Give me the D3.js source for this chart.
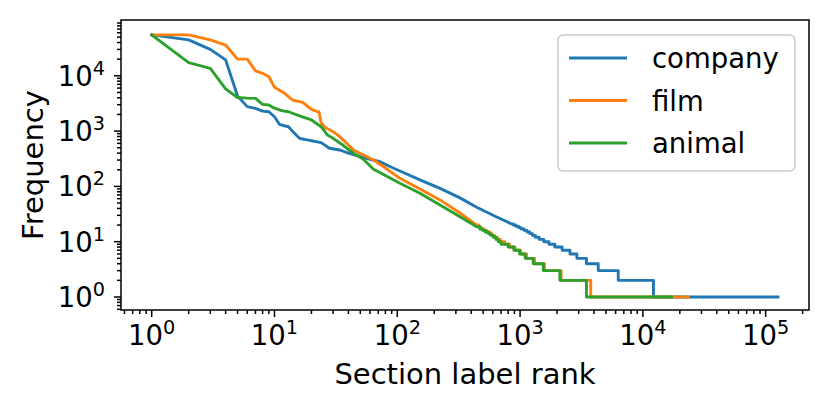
<!DOCTYPE html>
<html>
<head>
<meta charset="utf-8">
<script src="https://cdn.jsdelivr.net/npm/d3@7"></script>
<style>
  body { margin: 0; background: #fff; }
  svg { display: block; font-family: "DejaVu Sans", sans-serif; }
</style>
</head>
<body>
<svg id="chart" width="830" height="415"></svg>
<script>
// ---- data ----
// frequencies for ranks 1..n, then [rank, freq] samples, then [rank, new freq] stair drops
const seriesNames = ["company", "film", "animal"];
const seriesColors = ["#1f77b4", "#ff7f0e", "#2ca02c"];

const companyHead = [55000, 44600, 30000, 19400, 4300, 2770, 2580, 2300, 2240, 1820,
  1320, 1250, 1200, 1000, 850, 740, 720, 700, 685, 670];
const companyMid = [[24, 620], [28, 490], [34, 455], [40, 398], [50, 345], [60, 310],
  [72, 280], [87, 229], [105, 190], [153, 131], [223, 92], [324, 62], [443, 42],
  [645, 28], [850, 21]];
const companySteps = [[880, 20], [920, 19], [970, 18], [1020, 17], [1080, 16], [1140, 15],
  [1200, 14], [1260, 13], [1330, 12], [1430, 11], [1560, 10], [1720, 9], [1920, 8],
  [2200, 7], [2550, 6], [2900, 5], [3470, 4], [4330, 3], [6300, 2], [12200, 1]];
const companyEnd = 126000;

const filmHead = [55000, 55000, 44600, 36000, 20000, 20000, 12300, 11100, 9600, 6200,
  5500, 4900, 4200, 3650, 3500, 3420, 3300, 2970, 2700, 2480, 2380, 2280, 2240, 1400];
const filmMid = [[26, 1150], [28, 1060], [30, 980], [34, 795], [44, 455], [53, 370],
  [64, 300], [77, 229], [105, 140], [153, 90], [223, 57], [324, 33], [443, 20]];
const filmSteps = [[460, 19], [470, 18], [485, 17], [510, 16], [535, 15], [565, 14],
  [590, 13], [620, 12], [655, 11], [690, 10], [750, 9], [820, 8], [910, 7], [1010, 6],
  [1130, 5], [1310, 4], [1580, 3], [2160, 2], [3760, 1]];
const filmEnd = 23400;

const animalHead = [55000, 17300, 13600, 5800, 4050, 3950, 3900, 3040, 2970, 2600,
  2410, 2300, 2240];
const animalMid = [[16, 1880], [20, 1590], [24, 1200], [27, 850], [30, 740], [36, 560],
  [44, 398], [53, 310], [64, 205], [72, 178], [105, 114], [153, 75], [223, 46],
  [324, 28.3], [443, 18.6]];
const animalSteps = [[470, 17], [495, 16], [520, 15], [550, 14], [575, 13], [605, 12],
  [635, 11], [665, 10], [700, 9], [800, 8], [890, 7], [990, 6], [1100, 5], [1280, 4],
  [1545, 3], [2110, 2], [3470, 1]];
const animalEnd = 17100;

const xTickExps = [0, 1, 2, 3, 4, 5];
const yTickExps = [0, 1, 2, 3, 4];

function buildPoints(head, mid, steps, end) {
  const pts = head.map((f, i) => [i + 1, f]);
  mid.forEach(p => pts.push(p));
  let prev = pts[pts.length - 1][1];
  steps.forEach(([r, f]) => {
    pts.push([r, prev]);
    pts.push([r, f]);
    prev = f;
  });
  pts.push([end, prev]);
  return pts;
}

const allSeries = [
  buildPoints(companyHead, companyMid, companySteps, companyEnd),
  buildPoints(filmHead, filmMid, filmSteps, filmEnd),
  buildPoints(animalHead, animalMid, animalSteps, animalEnd)
];

// ---- layout ----
const plot = { left: 121, right: 809, top: 20, bottom: 310 };
const fontSize = 27.5;
const titleSize = 29;

const svg = d3.select("#chart");
svg.append("rect").attr("width", 830).attr("height", 415).attr("fill", "#fff");

const x = d3.scaleLog()
  .domain([Math.pow(10, -0.25), Math.pow(10, 5.353)])
  .range([plot.left, plot.right]);

const y = d3.scaleLog()
  .domain([Math.pow(10, -0.235), Math.pow(10, 5.009)])
  .range([plot.bottom, plot.top]);

// clip for lines
svg.append("clipPath").attr("id", "clip")
  .append("rect")
  .attr("x", plot.left).attr("y", plot.top)
  .attr("width", plot.right - plot.left).attr("height", plot.bottom - plot.top);

const line = d3.line()
  .x(d => x(d[0]))
  .y(d => y(d[1]));

const lines = svg.append("g").attr("clip-path", "url(#clip)");
allSeries.forEach((pts, i) => {
  lines.append("path")
    .datum(pts)
    .attr("d", line)
    .attr("fill", "none")
    .attr("stroke", seriesColors[i])
    .attr("stroke-width", 2.9)
    .attr("stroke-linejoin", "round")
    .attr("stroke-linecap", "square");
});

// ---- axes ----
function minorTicks(scale) {
  const [d0, d1] = scale.domain();
  const out = [];
  for (let e = Math.floor(Math.log10(d0)); e <= Math.ceil(Math.log10(d1)); e++) {
    for (let m = 2; m <= 9; m++) {
      const v = m * Math.pow(10, e);
      if (v >= d0 && v <= d1) out.push(v);
    }
  }
  return out;
}

const axes = svg.append("g").attr("stroke", "#000").attr("stroke-width", 1.5);

// x ticks
xTickExps.forEach(e => {
  const px = x(Math.pow(10, e));
  axes.append("line").attr("x1", px).attr("x2", px)
    .attr("y1", plot.bottom).attr("y2", plot.bottom + 7);
});
minorTicks(x).forEach(v => {
  const px = x(v);
  axes.append("line").attr("x1", px).attr("x2", px)
    .attr("y1", plot.bottom).attr("y2", plot.bottom + 4);
});

// y ticks
yTickExps.forEach(e => {
  const py = y(Math.pow(10, e));
  axes.append("line").attr("x1", plot.left - 7).attr("x2", plot.left)
    .attr("y1", py).attr("y2", py);
});
minorTicks(y).forEach(v => {
  const py = y(v);
  axes.append("line").attr("x1", plot.left - 4).attr("x2", plot.left)
    .attr("y1", py).attr("y2", py);
});

// frame
svg.append("rect")
  .attr("x", plot.left).attr("y", plot.top)
  .attr("width", plot.right - plot.left).attr("height", plot.bottom - plot.top)
  .attr("fill", "none").attr("stroke", "#000").attr("stroke-width", 1.5);

// tick labels
const labels = svg.append("g").attr("font-size", fontSize).attr("fill", "#000");

xTickExps.forEach(e => {
  const t = labels.append("text")
    .attr("x", x(Math.pow(10, e)))
    .attr("y", plot.bottom + 35)
    .attr("text-anchor", "middle");
  t.append("tspan").text("10");
  t.append("tspan").attr("dy", -11).attr("font-size", fontSize * 0.7).text(e);
});

yTickExps.forEach(e => {
  const t = labels.append("text")
    .attr("x", plot.left - 16)
    .attr("y", y(Math.pow(10, e)) + 10)
    .attr("text-anchor", "end");
  t.append("tspan").text("10");
  t.append("tspan").attr("dy", -11).attr("font-size", fontSize * 0.7).text(e);
});

// axis titles
svg.append("text")
  .attr("x", (plot.left + plot.right) / 2)
  .attr("y", 384)
  .attr("text-anchor", "middle")
  .attr("font-size", titleSize)
  .text("Section label rank");

svg.append("text")
  .attr("transform", `translate(43, ${(plot.top + plot.bottom) / 2}) rotate(-90)`)
  .attr("text-anchor", "middle")
  .attr("font-size", titleSize)
  .text("Frequency");

// ---- legend ----
const legend = svg.append("g");
legend.append("rect")
  .attr("x", 558).attr("y", 35)
  .attr("width", 237).attr("height", 136)
  .attr("rx", 5)
  .attr("fill", "#fff").attr("fill-opacity", 0.8)
  .attr("stroke", "#cccccc").attr("stroke-width", 1.5);

seriesNames.forEach((name, i) => {
  const ly = 58 + i * 42.5;
  legend.append("line")
    .attr("x1", 569).attr("x2", 627)
    .attr("y1", ly).attr("y2", ly)
    .attr("stroke", seriesColors[i]).attr("stroke-width", 2.9);
  legend.append("text")
    .attr("x", 652).attr("y", ly + 10)
    .attr("font-size", fontSize)
    .text(name);
});
</script>
</body>
</html>
